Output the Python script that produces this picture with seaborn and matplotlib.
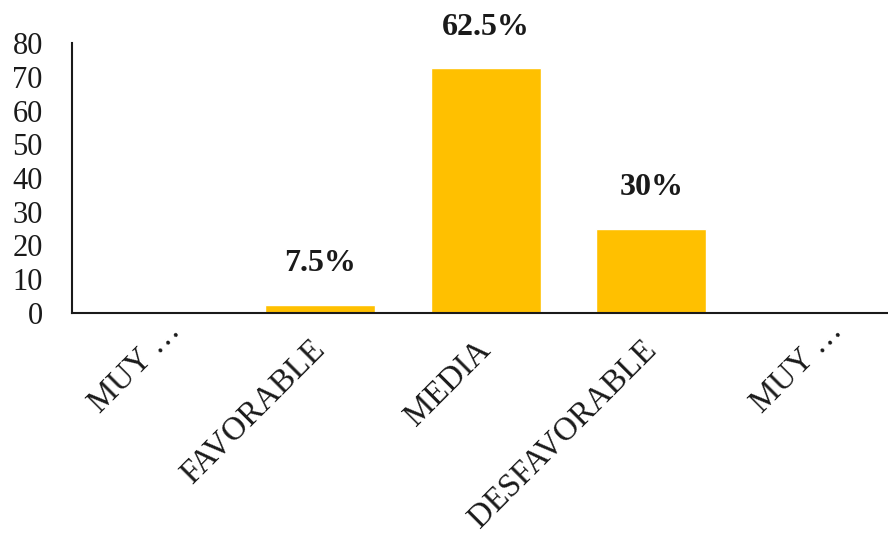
import matplotlib as mpl
mpl.use('Agg')
import matplotlib.pyplot as plt
import matplotlib.transforms as mtransforms
import seaborn as sns
import pandas as pd

# ============================================ #
# data
# ============================================ #
categorias = ['MUY …', 'FAVORABLE', 'MEDIA', 'DESFAVORABLE', 'MUY …']
valores = [0, 2.5, 72.5, 25, 0]
etiquetas = ['', '7.5%', '62.5%', '30%', '']

df = pd.DataFrame({'cat': range(len(categorias)), 'val': valores})

sns.set_theme(style='white')
plt.rcParams['font.family'] = ['Liberation Serif', 'DejaVu Serif']

fig = plt.figure(figsize=(8.88, 5.36), dpi=100)
ax = fig.add_axes([72 / 888, 1 - 313 / 536, (888 - 72) / 888, 270 / 536])

sns.barplot(data=df, x='cat', y='val', color='#FFC000', saturation=1,
            width=0.665, ax=ax)

# percentage labels above the bars
for i, (v, txt) in enumerate(zip(valores, etiquetas)):
    if txt:
        ax.annotate(txt, xy=(i, v), xytext=(0, 19), textcoords='offset points',
                    ha='center', va='bottom', fontsize=23, fontweight='bold',
                    color='k')

ax.set_ylim(0, 80)
ax.set_xlim(-0.5, 4.43)
ax.set_yticks(range(0, 81, 10))
ax.set_xticks(range(len(categorias)))
ax.set_xticklabels(categorias, rotation=45, ha='right', va='center',
                   rotation_mode='anchor', fontsize=23.5)
ax.tick_params(axis='y', labelsize=22, length=0, pad=21, labelcolor='k')
ax.tick_params(axis='x', length=0, pad=23, labelcolor='k')
ax.set_xlabel('')
ax.set_ylabel('')

# the truncated labels sit a bit further up-right in the original
for lbl in ax.get_xticklabels():
    if '…' in lbl.get_text():
        lbl.set_transform(lbl.get_transform() +
                          mtransforms.ScaledTranslation(0.21, 0.19, fig.dpi_scale_trans))

sns.despine(ax=ax)
for s in ['left', 'bottom']:
    ax.spines[s].set_color('k')
    ax.spines[s].set_linewidth(1.5)

fig.savefig('out.png', dpi=100, facecolor='white')
